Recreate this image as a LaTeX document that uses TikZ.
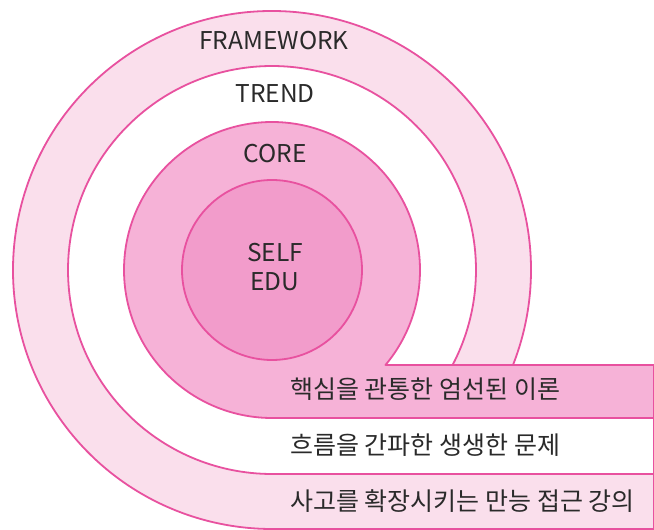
\documentclass[tikz,border=0pt]{standalone}
\usepackage{fontspec}
\setmainfont{Noto Sans CJK KR}
\usetikzlibrary{calc}
\definecolor{ringline}{HTML}{E8519F}
\definecolor{frameworkfill}{HTML}{FADFEC}
\definecolor{corefill}{HTML}{F6B2D7}
\definecolor{selffill}{HTML}{F29CCB}
\definecolor{labeltext}{HTML}{2A2A2A}
% ring with a band running out to the right edge: [style](radius:depth of band top below centre)
\def\ringband[#1](#2:#3){\pgfmathsetmacro\ringang{-asin(#3/#2)}\draw[#1] (654,{260-#3}) -- ($(272,260)+(\ringang:#2pt)$) arc (\ringang:270:#2pt) -- (654,{260-#2}) -- cycle;}

\begin{document}
\begin{tikzpicture}[x=1pt, y=1pt,
		ring/.style={draw=ringline, line width=1.8pt, line join=round},
		ringtitle/.style={text=labeltext, inner sep=0pt, font=\fontsize{24.5}{29}\selectfont},
		bandtitle/.style={text=labeltext, anchor=west, inner sep=0pt, font=\fontsize{25}{29}\selectfont}]
		%%%%% START %%%%%
		\useasboundingbox (0, 0) rectangle (654, 530);
		
		\ringband[ring, fill=frameworkfill](259:204);
		\ringband[ring, fill=white](204:148);
		\ringband[ring, fill=corefill](148:95);
		\draw[ring, fill=selffill] (272, 260) circle (90pt);
		
		\node[ringtitle] (framework) at (274, 489) {FRAMEWORK};
		\node[ringtitle] (trend) at (275, 436) {TREND};
		\node[ringtitle] (core) at (275, 376) {CORE};
		\node[ringtitle, align=center] (self) at (275, 263) {SELF\\EDU};
		
		\node[bandtitle] (coretext) at (290, 141) {핵심을 관통한 엄선된 이론};
		\node[bandtitle] (trendtext) at (290, 85) {흐름을 간파한 생생한 문제};
		\node[bandtitle] (frameworktext) at (290, 29) {사고를 확장시키는 만능 접근 강의};
		%%%%% END %%%%%
	\end{tikzpicture}
\end{document}
